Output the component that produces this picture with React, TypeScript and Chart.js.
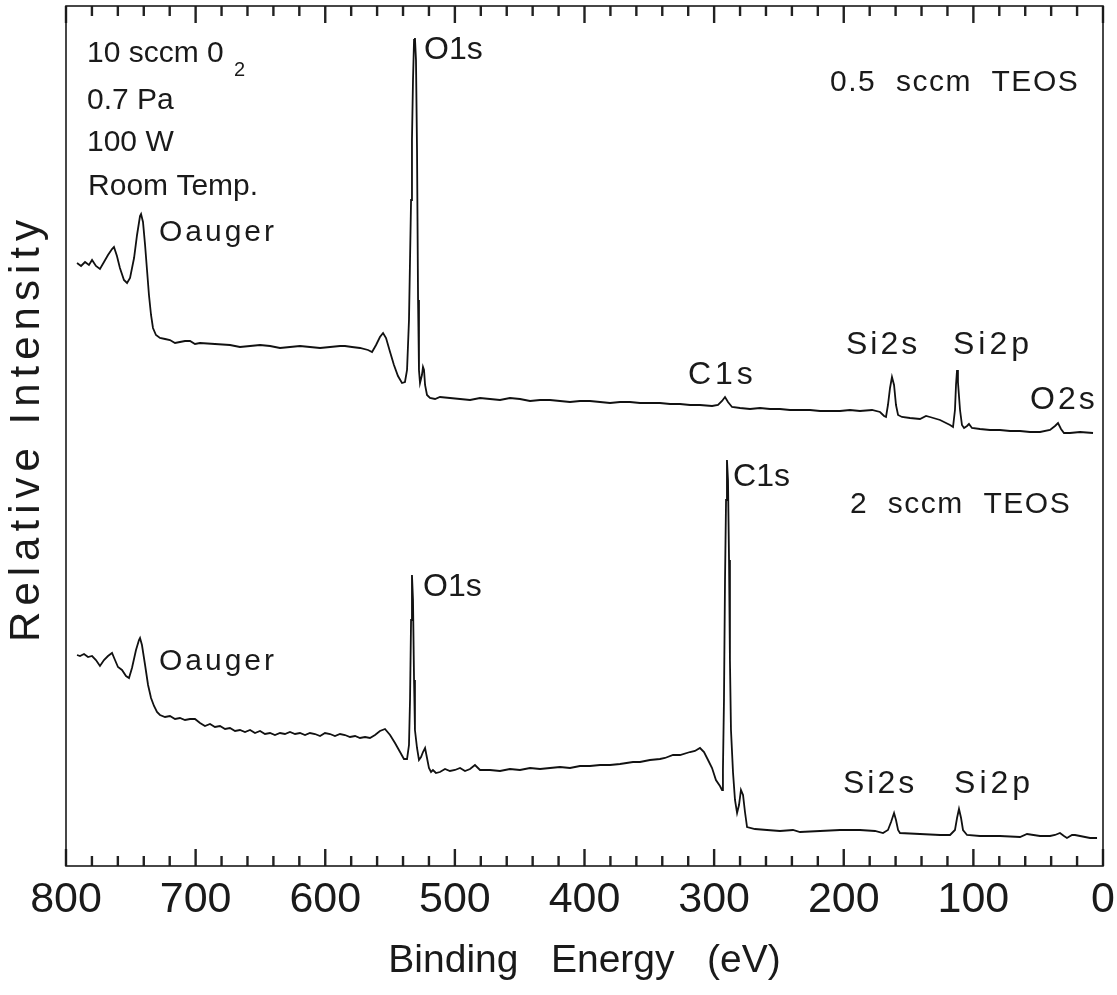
import React, { useEffect, useRef } from "react";
import { Chart, registerables } from "chart.js";

Chart.register(...registerables);

const FONT = '"Liberation Sans", Arial, Helvetica, sans-serif';
const INK = "#1a1a1a";

// Binding energy axis tick labels (eV)
const xTickValues = [0, 100, 200, 300, 400, 500, 600, 700, 800];
// Minor tick marks every 20 eV
const minorTickValues = [
  0, 20, 40, 60, 80, 100, 120, 140, 160, 180, 200, 220, 240, 260, 280, 300,
  320, 340, 360, 380, 400, 420, 440, 460, 480, 500, 520, 540, 560, 580, 600,
  620, 640, 660, 680, 700, 720, 740, 760, 780, 800,
];

// 0.5 sccm TEOS spectrum
const topEnergy = [
  791.5, 788.4, 785.3, 782.3, 779.9, 776.9, 773.8, 770.7, 767.6, 764.5,
  763.0, 760.7, 758.4, 755.3, 752.9, 750.6, 747.5, 745.2, 742.9, 742.1,
  740.6, 739.0, 737.5, 736.0, 734.4, 732.9, 730.6, 727.5, 723.6, 719.8,
  715.9, 712.1, 708.2, 704.3, 700.5, 696.6, 685.1, 673.5, 665.8, 658.0,
  650.3, 642.6, 634.9, 627.2, 619.5, 611.8, 604.0, 596.3, 588.6, 584.8,
  579.4, 573.2, 567.0, 563.9, 560.8, 557.8, 555.4, 553.1, 550.0, 547.0,
  543.9, 540.8, 538.5, 536.9, 535.4, 533.8, 533.1, 532.3, 531.5, 530.8,
  530.0, 529.2, 528.4, 527.7, 526.9, 525.4, 524.6, 523.8, 523.0, 521.5,
  519.2, 515.3, 511.5, 503.8, 496.0, 488.3, 480.6, 472.9, 465.2, 457.5,
  449.8, 442.0, 434.3, 426.6, 418.9, 411.2, 403.5, 395.8, 388.0, 380.3,
  372.6, 364.9, 357.2, 349.5, 341.8, 334.0, 326.3, 318.6, 310.9, 301.6,
  297.0, 293.9, 291.6, 289.3, 286.2, 280.0, 272.3, 264.6, 256.9, 249.2,
  241.5, 233.7, 226.0, 218.3, 210.6, 202.9, 195.2, 187.5, 178.2, 172.0,
  168.9, 167.4, 165.9, 164.3, 162.8, 161.2, 159.7, 158.1, 155.1, 148.9,
  141.2, 136.5, 133.5, 125.7, 118.0, 115.7, 114.2, 113.4, 112.6, 111.9,
  110.3, 108.8, 107.2, 104.9, 103.4, 101.1, 94.9, 87.2, 79.5, 71.7,
  64.0, 56.3, 48.6, 40.9, 37.0, 34.7, 32.4, 30.1, 25.5, 17.7,
  7.7,
];
const topCounts = [
  603, 600, 604, 601, 606, 600, 597, 604, 611, 617,
  619, 610, 598, 586, 583, 588, 608, 631, 650, 652,
  644, 621, 596, 571, 551, 538, 531, 528, 527, 526,
  523, 524, 525, 525, 522, 523, 522, 521, 519, 520,
  521, 520, 518, 519, 520, 519, 518, 519, 520, 520,
  519, 518, 516, 514, 521, 529, 533, 528, 514, 501,
  490, 483, 484, 496, 546, 666, 726, 786, 826, 828,
  806, 716, 566, 496, 483, 491, 499, 496, 481, 471,
  468, 467, 469, 468, 467, 466, 468, 467, 466, 468,
  467, 465, 466, 466, 465, 464, 465, 465, 464, 463,
  464, 464, 463, 463, 463, 462, 462, 461, 461, 460,
  461, 465, 469, 464, 459, 458, 457, 458, 457, 457,
  456, 456, 456, 455, 455, 455, 456, 455, 456, 454,
  450, 449, 461, 478, 489, 481, 461, 451, 449, 448,
  447, 450, 449, 446, 441, 439, 456, 481, 496, 484,
  456, 441, 438, 440, 442, 438, 437, 436, 436, 435,
  435, 434, 434, 436, 440, 443, 437, 433, 433, 434,
  433,
];

// 2 sccm TEOS spectrum
const bottomEnergy = [
  791.5, 789.2, 786.1, 783.0, 779.9, 776.9, 773.8, 770.7, 767.6, 764.5,
  762.2, 759.9, 756.8, 753.7, 751.4, 749.1, 746.0, 743.7, 742.9, 741.4,
  739.0, 736.7, 734.4, 732.1, 729.8, 727.5, 723.6, 719.8, 715.9, 712.1,
  708.2, 704.3, 700.5, 696.6, 692.8, 688.9, 685.1, 681.2, 677.3, 673.5,
  669.6, 665.8, 661.9, 658.0, 654.2, 650.3, 646.5, 642.6, 638.8, 634.9,
  631.1, 627.2, 623.3, 619.5, 615.6, 611.8, 607.9, 604.0, 600.2, 596.3,
  592.5, 588.6, 584.8, 580.9, 577.0, 573.2, 569.3, 565.5, 561.6, 557.8,
  553.9, 550.0, 546.2, 542.3, 539.3, 536.9, 535.4, 534.6, 533.8, 533.1,
  532.3, 531.5, 530.8, 529.2, 527.7, 526.1, 524.6, 523.0, 521.5, 520.0,
  518.4, 516.9, 514.6, 511.5, 507.6, 503.8, 499.9, 496.0, 492.2, 488.3,
  484.5, 480.6, 472.9, 465.2, 457.5, 449.8, 442.0, 434.3, 426.6, 418.9,
  411.2, 403.5, 395.8, 388.0, 380.3, 372.6, 362.6, 357.2, 349.5, 341.8,
  337.9, 331.7, 326.3, 318.6, 314.8, 310.9, 307.8, 304.7, 301.6, 298.6,
  295.5, 293.9, 293.2, 292.4, 291.6, 290.8, 290.1, 289.3, 288.5, 287.8,
  287.0, 285.4, 283.9, 282.3, 280.8, 279.3, 277.7, 276.2, 274.6, 268.5,
  259.2, 249.2, 239.2, 233.7, 218.3, 202.9, 187.5, 175.9, 169.7, 165.9,
  163.5, 161.2, 159.7, 158.1, 156.6, 141.2, 125.7, 118.0, 114.2, 112.6,
  111.1, 109.5, 108.0, 104.9, 94.9, 79.5, 64.0, 58.6, 48.6, 40.9,
  37.0, 33.2, 30.1, 27.8, 23.9, 21.6, 17.7, 10.0, 4.6,
];
const bottomCounts = [
  211, 210, 212, 209, 210, 206, 200, 206, 210, 213,
  206, 199, 196, 190, 188, 198, 216, 226, 228, 221,
  201, 181, 168, 160, 154, 151, 149, 150, 147, 148,
  146, 147, 147, 143, 140, 142, 139, 140, 137, 138,
  135, 136, 134, 136, 133, 135, 132, 133, 131, 133,
  132, 134, 132, 133, 131, 133, 132, 130, 133, 132,
  130, 132, 131, 129, 130, 128, 129, 128, 131, 135,
  137, 131, 123, 114, 107, 107, 121, 166, 246, 291,
  266, 186, 136, 118, 106, 109, 114, 118, 108, 98,
  94, 96, 93, 94, 97, 95, 96, 98, 95, 97,
  101, 96, 96, 95, 97, 96, 98, 97, 98, 99,
  98, 100, 100, 101, 101, 102, 104, 104, 106, 107,
  108, 111, 111, 114, 115, 118, 114, 106, 98, 86,
  80, 76, 96, 166, 286, 366, 406, 386, 306, 206,
  136, 93, 66, 53, 61, 76, 71, 54, 39, 37,
  36, 35, 36, 34, 35, 36, 36, 35, 33, 36,
  44, 53, 46, 36, 33, 32, 31, 31, 36, 48,
  57, 48, 36, 31, 30, 30, 29, 32, 30, 30,
  31, 33, 30, 28, 31, 31, 30, 28, 28,
];

// Text labels placed in data coordinates (eV, counts): left edge / vertical centre
const annotations = [
  { text: "10 sccm 0", e: 783.8, c: 812, size: 30, spacing: 0 },
  { text: "2", e: 670.4, c: 796, size: 20, spacing: 0 },
  { text: "0.7 Pa", e: 783.8, c: 765, size: 30, spacing: 0 },
  { text: "100 W", e: 783.8, c: 723, size: 30, spacing: 0 },
  { text: "Room Temp.", e: 783.0, c: 679, size: 30, spacing: 0 },
  { text: "Oauger", e: 728.3, c: 633, size: 30, spacing: 3 },
  { text: "O1s", e: 523.8, c: 816, size: 32, spacing: 0 },
  { text: "0.5  sccm  TEOS", e: 210.6, c: 783, size: 30, spacing: 1.5 },
  { text: "C1s", e: 320.2, c: 491, size: 32, spacing: 4 },
  { text: "Si2s", e: 198.3, c: 521, size: 32, spacing: 3 },
  { text: "Si2p", e: 115.7, c: 521, size: 32, spacing: 4 },
  { text: "O2s", e: 56.3, c: 466, size: 32, spacing: 3 },
  { text: "C1s", e: 285.4, c: 389, size: 32, spacing: 0 },
  { text: "2  sccm  TEOS", e: 195.2, c: 361, size: 30, spacing: 1.5 },
  { text: "O1s", e: 524.6, c: 279, size: 32, spacing: 0 },
  { text: "Oauger", e: 728.3, c: 204, size: 30, spacing: 3 },
  { text: "Si2s", e: 200.6, c: 82, size: 32, spacing: 3 },
  { text: "Si2p", e: 114.9, c: 82, size: 32, spacing: 4 },
];

const yTitle = "Relative Intensity";

const framePlugin = {
  id: "xpsFrame",
  afterDraw(chart: any) {
    const ctx = chart.ctx as CanvasRenderingContext2D;
    const area = chart.chartArea;
    const xs = chart.scales.x;
    const ys = chart.scales.y;
    ctx.save();
    ctx.fillStyle = "#222222";
    for (let i = 0; i < minorTickValues.length; i++) {
      const v = minorTickValues[i];
      const px = xs.getPixelForValue(v);
      const len = v % 100 === 0 ? 17 : 10;
      ctx.fillRect(px - 1.2, area.bottom - len, 2.4, len);
      ctx.fillRect(px - 1.2, area.top, 2.4, len);
    }
    ctx.strokeStyle = INK;
    ctx.lineWidth = 1.6;
    ctx.strokeRect(area.left, area.top, area.right - area.left, area.bottom - area.top);

    ctx.fillStyle = INK;
    ctx.textAlign = "left";
    ctx.textBaseline = "middle";
    for (const a of annotations) {
      ctx.font = `${a.size}px ${FONT}`;
      ctx.letterSpacing = `${a.spacing}px`;
      ctx.fillText(a.text, xs.getPixelForValue(a.e), ys.getPixelForValue(a.c));
    }

    ctx.font = `42px ${FONT}`;
    ctx.letterSpacing = "6px";
    ctx.textAlign = "center";
    ctx.translate(area.left - 39, ys.getPixelForValue(438));
    ctx.rotate(-Math.PI / 2);
    ctx.fillText(yTitle, 0, 0);
    ctx.restore();
  },
};

export default function App() {
  const canvasRef = useRef<HTMLCanvasElement | null>(null);

  useEffect(() => {
    const canvas = canvasRef.current;
    if (!canvas) return;
    const chart = new Chart(canvas, {
      type: "line",
      data: {
        datasets: [
          {
            label: "0.5 sccm TEOS",
            data: topEnergy.map((e, i) => ({ x: e, y: topCounts[i] })),
            borderColor: "#111",
            borderWidth: 1.8,
            pointRadius: 0,
            tension: 0,
            fill: false,
          },
          {
            label: "2 sccm TEOS",
            data: bottomEnergy.map((e, i) => ({ x: e, y: bottomCounts[i] })),
            borderColor: "#111",
            borderWidth: 1.8,
            pointRadius: 0,
            tension: 0,
            fill: false,
          },
        ],
      },
      options: {
        animation: false,
        responsive: false,
        devicePixelRatio: 1,
        layout: { padding: { left: 66, right: 14, top: 6, bottom: 0 } },
        plugins: {
          legend: { display: false },
          tooltip: { enabled: false },
        },
        scales: {
          x: {
            type: "linear",
            min: 0,
            max: 800,
            reverse: true,
            afterBuildTicks: (scale: any) => {
              scale.ticks = xTickValues.map((v) => ({ value: v }));
            },
            afterFit: (scale: any) => {
              scale.height = 129;
            },
            grid: { display: false, drawTicks: false },
            border: { display: false },
            ticks: {
              autoSkip: false,
              maxRotation: 0,
              minRotation: 0,
              padding: 8,
              color: INK,
              font: { size: 43, family: FONT },
              callback: (v: any) => String(v),
            },
            title: {
              display: true,
              text: "Binding   Energy   (eV)",
              color: INK,
              font: { size: 39, family: FONT },
              padding: { top: 0, bottom: 10 },
            },
          },
          y: {
            display: false,
            min: 0,
            max: 860,
          },
        },
      },
      plugins: [framePlugin],
    });
    return () => chart.destroy();
  }, []);

  return (
    <div style={{ position: "absolute", left: 0, top: 0, width: 1117, height: 995, background: "#fff" }}>
      <canvas ref={canvasRef} width={1117} height={995} style={{ display: "block" }} />
    </div>
  );
}
